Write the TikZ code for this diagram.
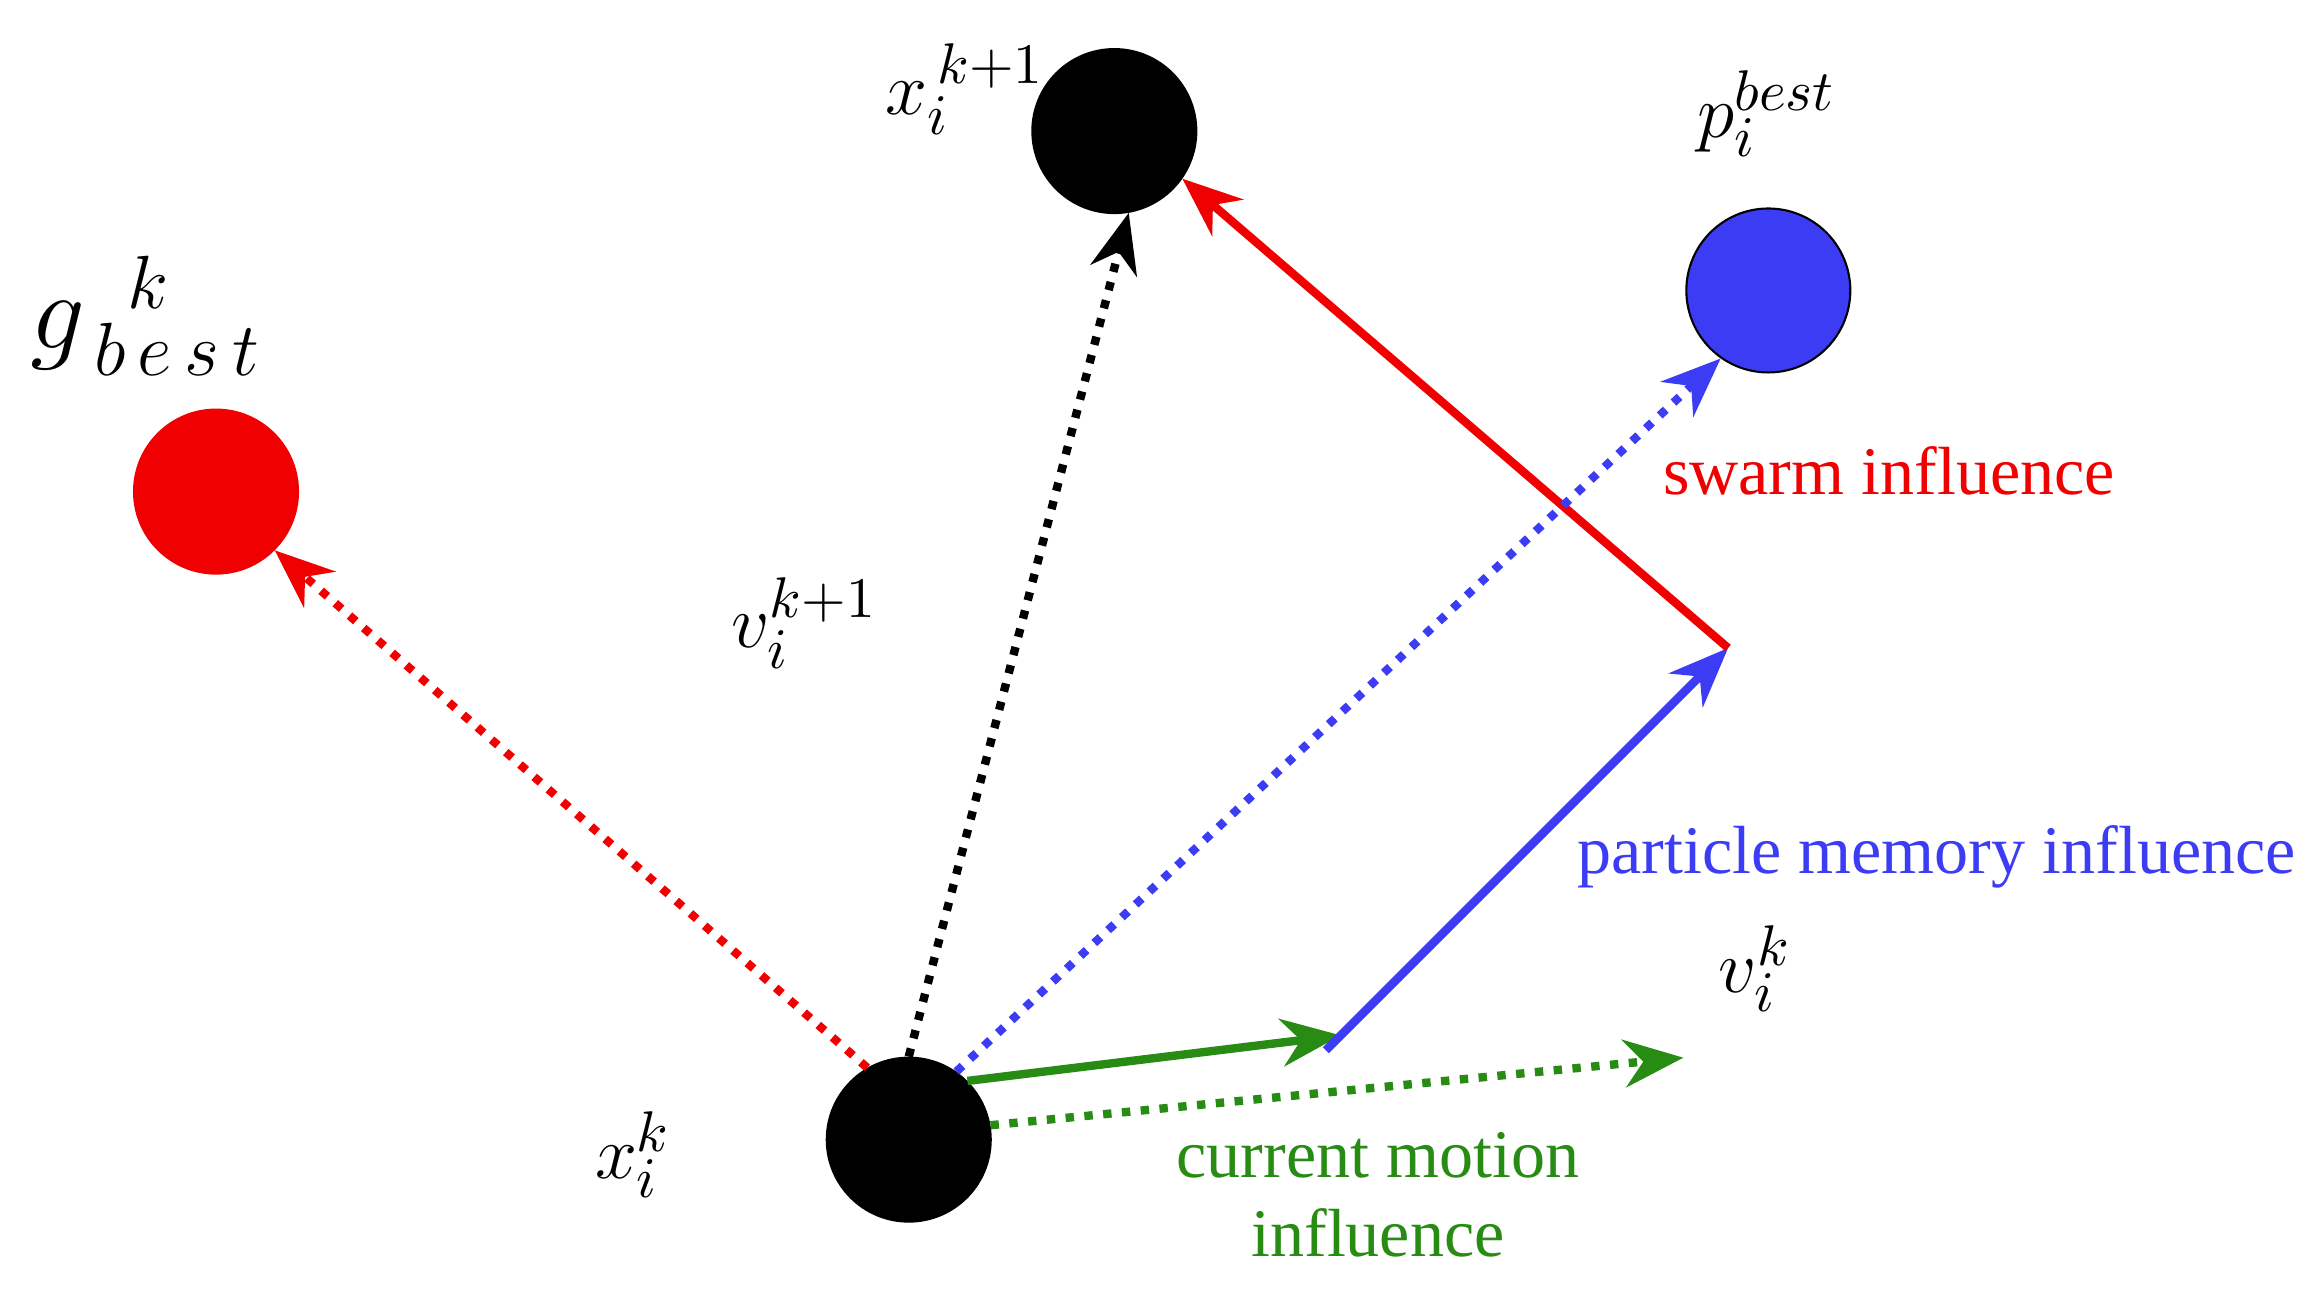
\documentclass[tikz,border=0pt]{standalone}
\usepackage{fontspec}
\setmainfont{Liberation Serif}
\usetikzlibrary{arrows.meta}
\definecolor{pgreen}{RGB}{40,140,20}
\definecolor{pblue}{RGB}{60,60,245}
\definecolor{pred}{RGB}{240,0,0}
\tikzset{
  particle/.style={circle, draw=black, minimum size=1.1cm, inner sep=0pt},
  lab/.style={font=\fontsize{13}{15}\selectfont},
  sym/.style={font=\fontsize{15}{17}\selectfont},
  pull/.style={-{Stealth[length=4mm,width=3.2mm]}, line width=1.6pt},
  hint/.style={-{Stealth[length=4mm,width=3.2mm]}, line width=1.6pt, dotted}
}
\begin{document}
\begin{tikzpicture}[x=0.01cm, y=-0.01cm]
    \useasboundingbox (0,0) rectangle (1560,865);

    % particles
    \node[particle, fill=black] (xk) at (610,765) {};
    \node[particle, fill=black] (xnext) at (748,88) {};
    \node[particle, fill=pblue] (pbest) at (1187,195) {};
    \node[particle, fill=pred, draw=pred] (gbest) at (145,330) {};

    % corners of the velocity sum
    \coordinate (vend) at (900,695);
    \coordinate (pend) at (1160,435);
    \coordinate (vtip) at (1130,710);

    % solid components
    \draw[pull, pgreen] (xk.45) -- (vend);
    \draw[pull, pblue] (vend) ++(-10,10) -- (pend);
    \draw[pull, pred] (pend) -- (xnext.-35);

    % dotted directions
    \draw[hint, pgreen] (xk.10) -- (vtip);
    \draw[hint, pblue] (xk.55) -- (pbest.-125);
    \draw[hint, black] (xk.north) -- (xnext.-80);
    \draw[hint, pred] (xk.120) -- (gbest.-45);

    % labels
    \node[sym] (lxnext) at (648,60) {$x_i^{\,k+1}$};
    \node[sym] (lpbest) at (1186,76) {$p_i^{best}$};
    \node[font=\fontsize{22}{24}\selectfont] (lgbest) at (98,212) {$g_{\,b\,e\,s\,t}^{\;\;k}$};
    \node[sym] (lvnext) at (540,418) {$v_i^{k+1}$};
    \node[sym] (lvk) at (1178,650) {$v_i^{k}$};
    \node[sym] (lxk) at (425,775) {$x_i^{k}$};
    \node[lab, pred] (lswarm) at (1268,316) {swarm influence};
    \node[lab, pblue] (lmem) at (1300,575) {particle memory influence};
    \node[lab, pgreen, align=center] (lcur) at (925,802) {current motion\\influence};
\end{tikzpicture}
\end{document}
